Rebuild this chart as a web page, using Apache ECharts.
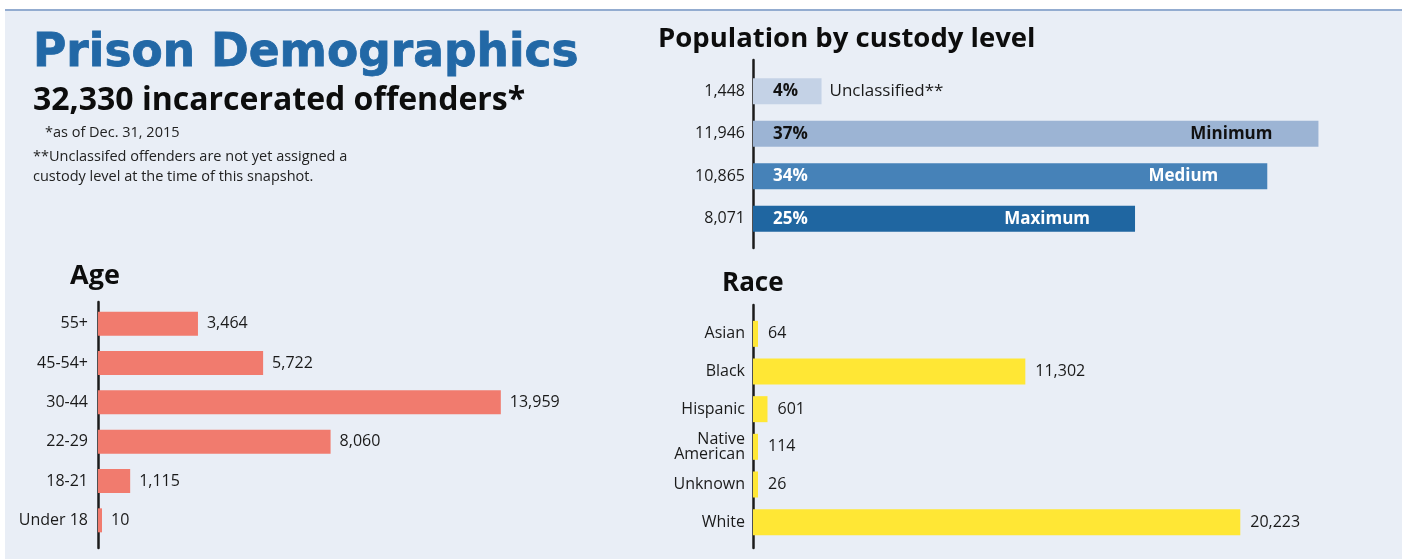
<!DOCTYPE html>
<html><head><meta charset="utf-8">
<script src="https://cdn.jsdelivr.net/npm/echarts@6/dist/echarts.min.js"></script>
<style>html,body{margin:0;padding:0;background:#fff}#c{width:1408px;height:559px}</style>
</head><body><div id="c"></div>
<script>
// ---- data ----
const custodyLevels = ['Unclassified**', 'Minimum', 'Medium', 'Maximum'];
const custodyCounts = [1448, 11946, 10865, 8071];
const custodyPercents = ['4%', '37%', '34%', '25%'];
const ageGroups = ['55+', '45-54+', '30-44', '22-29', '18-21', 'Under 18'];
const ageCounts = [3464, 5722, 13959, 8060, 1115, 10];
const raceGroups = ['Asian', 'Black', 'Hispanic', 'Native\nAmerican', 'Unknown', 'White'];
const raceCounts = [64, 11302, 601, 114, 26, 20223];

// ---- styles ----
const FONT = '"Open Sans", Lato, sans-serif';
const custodyColors = ['#C4D2E6', '#9CB4D4', '#4682B8', '#1F66A1'];
const custodyPctColors = ['#111', '#111', '#fff', '#fff'];
const custodyNameStyle = [
  {position: 'right', distance: 8, fontWeight: 'normal', color: '#1a1a1a'},
  {position: 'insideRight', distance: 46, fontWeight: 'bold', color: '#111'},
  {position: 'insideRight', distance: 49, fontWeight: 'bold', color: '#fff'},
  {position: 'insideRight', distance: 45, fontWeight: 'bold', color: '#fff'}
];
const fmt = v => v.toLocaleString('en-US');

const chart = echarts.init(document.getElementById('c'), null, {renderer: 'canvas'});

function lineAxisGrid(idx) {
  return {
    x: {gridIndex: idx, type: 'value', show: false},
    y: {gridIndex: idx, type: 'value', min: 0, max: 1,
        axisLine: {show: true, lineStyle: {color: '#1b1b1b', width: 2.5}},
        axisTick: {show: false}, axisLabel: {show: false}, splitLine: {show: false}}
  };
}
const lg = [lineAxisGrid(3), lineAxisGrid(4), lineAxisGrid(5)];

const catAxisBase = {
  type: 'category', inverse: true,
  axisLine: {show: false}, axisTick: {show: false},
  axisLabel: {fontFamily: FONT, fontSize: 16, color: '#1a1a1a', margin: 9}
};

const option = {
  animation: false,
  textStyle: {fontFamily: FONT},
  graphic: [
    {type: 'rect', z: -100, shape: {x: 5, y: 10, width: 1397, height: 549}, style: {fill: '#E9EEF6'}},
    {type: 'rect', z: -99, shape: {x: 5, y: 9, width: 1397, height: 2}, style: {fill: '#93ACD0'}},
    {type: 'text', z: 100, x: 33, y: 54, style: {text: 'Prison Demographics', font: 'bold 45.5px "DejaVu Sans", sans-serif', fill: '#2268A6', stroke: '#2268A6', lineWidth: 0.8, verticalAlign: 'middle'}},
    {type: 'text', z: 100, x: 33, y: 101, style: {text: '32,330 incarcerated offenders*', font: 'bold 32px "Open Sans", sans-serif', fill: '#0d0d0d', verticalAlign: 'middle'}},
    {type: 'text', z: 100, x: 45, y: 133, style: {text: '*as of Dec. 31, 2015', font: '14.5px "Open Sans", sans-serif', fill: '#222', verticalAlign: 'middle'}},
    {type: 'text', z: 100, x: 33, y: 157, style: {text: '**Unclassifed offenders are not yet assigned a', font: '14.5px "Open Sans", sans-serif', fill: '#222', verticalAlign: 'middle'}},
    {type: 'text', z: 100, x: 33, y: 177, style: {text: 'custody level at the time of this snapshot.', font: '14.5px "Open Sans", sans-serif', fill: '#222', verticalAlign: 'middle'}},
    {type: 'text', z: 100, x: 658, y: 39, style: {text: 'Population by custody level', font: 'bold 27.5px "Open Sans", sans-serif', fill: '#0d0d0d', verticalAlign: 'middle'}},
    {type: 'text', z: 100, x: 70, y: 276, style: {text: 'Age', font: 'bold 27px "Open Sans", sans-serif', fill: '#0d0d0d', verticalAlign: 'middle'}},
    {type: 'text', z: 100, x: 722, y: 284, style: {text: 'Race', font: 'bold 26px "Open Sans", sans-serif', fill: '#0d0d0d', verticalAlign: 'middle'}}
  ],
  grid: [
    {left: 753, top: 70, width: 568, height: 170},   // custody
    {left: 98, top: 304, width: 404, height: 236},   // age
    {left: 753, top: 315, width: 506, height: 226},  // race
    {left: 753, top: 60, width: 10, height: 188},    // custody axis line
    {left: 98, top: 302, width: 10, height: 246},    // age axis line
    {left: 753, top: 305, width: 10, height: 243}    // race axis line
  ],
  xAxis: [
    {gridIndex: 0, type: 'value', min: 0, max: 12000, show: false},
    {gridIndex: 1, type: 'value', min: 0, max: 14000, show: false},
    {gridIndex: 2, type: 'value', min: 0, max: 21000, show: false},
    lg[0].x, lg[1].x, lg[2].x
  ],
  yAxis: [
    Object.assign({}, catAxisBase, {gridIndex: 0, data: custodyCounts.map(fmt),
      axisLabel: Object.assign({}, catAxisBase.axisLabel, {margin: 8})}),
    Object.assign({}, catAxisBase, {gridIndex: 1, data: ageGroups,
      axisLabel: Object.assign({}, catAxisBase.axisLabel, {margin: 10})}),
    Object.assign({}, catAxisBase, {gridIndex: 2, data: raceGroups,
      axisLabel: Object.assign({}, catAxisBase.axisLabel, {margin: 8, lineHeight: 15})}),
    lg[0].y, lg[1].y, lg[2].y
  ],
  series: [
    {
      type: 'bar', xAxisIndex: 0, yAxisIndex: 0, barWidth: 26, z: 3,
      data: custodyCounts.map((v, i) => ({
        value: v,
        itemStyle: {color: custodyColors[i]},
        label: {color: custodyPctColors[i]}
      })),
      label: {show: true, position: 'insideLeft', distance: 20, fontFamily: FONT, fontSize: 17, fontWeight: 'bold',
        formatter: p => custodyPercents[p.dataIndex]}
    },
    {
      type: 'bar', xAxisIndex: 0, yAxisIndex: 0, barWidth: 26, barGap: '-100%', z: 4,
      data: custodyCounts.map((v, i) => ({
        value: v,
        itemStyle: {color: 'rgba(0,0,0,0)'},
        label: custodyNameStyle[i]
      })),
      label: {show: true, fontFamily: FONT, fontSize: 17,
        formatter: p => custodyLevels[p.dataIndex]}
    },
    {
      type: 'bar', xAxisIndex: 1, yAxisIndex: 1, barWidth: 24, barMinHeight: 4, z: 3,
      itemStyle: {color: '#F17B6E'},
      data: ageCounts,
      label: {show: true, position: 'right', distance: 9, fontFamily: FONT, fontSize: 16, color: '#1a1a1a',
        formatter: p => fmt(p.value)}
    },
    {
      type: 'bar', xAxisIndex: 2, yAxisIndex: 2, barWidth: 26, barMinHeight: 5, z: 3,
      itemStyle: {color: '#FFE735'},
      data: raceCounts,
      label: {show: true, position: 'right', distance: 10, fontFamily: FONT, fontSize: 16, color: '#1a1a1a',
        formatter: p => fmt(p.value)}
    }
  ]
};
chart.setOption(option);
</script>
</body></html>
